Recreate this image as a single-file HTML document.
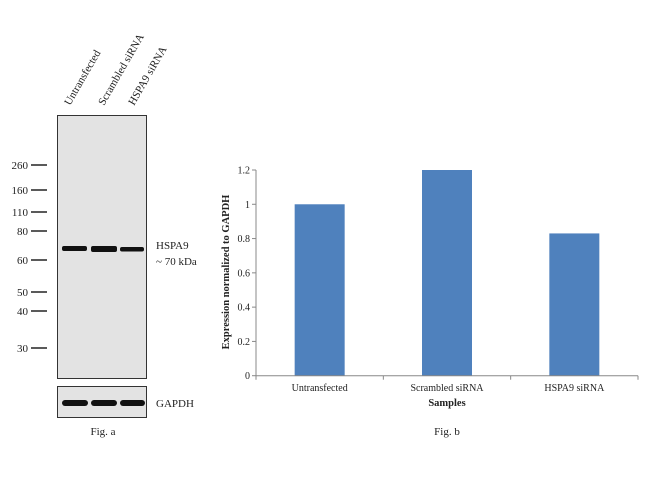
<!DOCTYPE html>
<html><head><meta charset="utf-8"><style>
body{margin:0;background:#fff;width:650px;height:480px;overflow:hidden;font-family:"Liberation Serif",serif;}
svg text{font-family:"Liberation Serif",serif;fill:#222;}
</style></head><body>
<svg width="650" height="480">
<g>
  <text transform="translate(70,106) rotate(-60)" font-size="11">Untransfected</text>
  <text transform="translate(104,106) rotate(-60)" font-size="11">Scrambled siRNA</text>
  <text transform="translate(134,106) rotate(-60)" font-size="11">HSPA9 siRNA</text>
  <rect x="57.5" y="115.5" width="89" height="263" fill="#e3e3e3" stroke="#333" stroke-width="1"/>
  <rect x="57.5" y="386.5" width="89" height="31" fill="#e3e3e3" stroke="#333" stroke-width="1"/>
  <g id="markers"></g>
  <rect x="62" y="246" width="25" height="5" rx="2" fill="#111"/>
  <rect x="91" y="246" width="26" height="6" rx="2" fill="#111"/>
  <rect x="120" y="247" width="24" height="4.5" rx="2" fill="#111"/>
  <rect x="62" y="400" width="26" height="6" rx="3" fill="#111"/>
  <rect x="91" y="400" width="26" height="6" rx="3" fill="#111"/>
  <rect x="120" y="400" width="25" height="6" rx="3" fill="#111"/>
  <text x="156" y="249" font-size="11">HSPA9</text>
  <text x="156" y="265" font-size="11">~ 70 kDa</text>
  <text x="156" y="407" font-size="11">GAPDH</text>
  <text x="103" y="435" font-size="11" text-anchor="middle">Fig. a</text>
</g>
<g id="chart"></g>
</svg>
<script>
const markerLabels=["260","160","110","80","60","50","40","30"];
const markerY=[165,190,212,231,260,292,311,348];
const categories=["Untransfected","Scrambled siRNA","HSPA9 siRNA"];
const values=[1.0,1.2,0.83];
const yTicks=[0,0.2,0.4,0.6,0.8,1,1.2];
const yTickLabels=["0","0.2","0.4","0.6","0.8","1","1.2"];
const NS="http://www.w3.org/2000/svg";
function mk(p,t,a){const e=document.createElementNS(NS,t);for(const k in a)e.setAttribute(k,a[k]);p.appendChild(e);return e;}
const mg=document.getElementById('markers');
markerLabels.forEach((l,i)=>{
  const t=mk(mg,'text',{x:28,y:markerY[i]+4,'font-size':11,'text-anchor':'end'});t.textContent=l;
  
  
  const ln=mk(mg,'line',{x1:31,x2:47,y1:markerY[i],y2:markerY[i],stroke:'#222','stroke-width':1.5});
  
  
});
const g=document.getElementById('chart');
const x0=256,x1=638,y0=375.7,yTop=170,vmax=1.2;
const ys=v=>y0-(v/vmax)*(y0-yTop);
const band=(x1-x0)/categories.length;
const xs=i=>x0+band*(i+0.5);
const bw=50;
yTicks.forEach((v,i)=>{
  const tk=mk(g,'line',{x1:x0-4,x2:x0,y1:ys(v),y2:ys(v),stroke:'#888'});
  
  
  const t=mk(g,'text',{x:x0-6,y:ys(v)+3.5,'font-size':10,'text-anchor':'end'});t.textContent=yTickLabels[i];
  
  
});
categories.forEach((c,i)=>{
  const r=mk(g,'rect',{x:xs(i)-bw/2,y:ys(values[i]),width:bw,height:y0-ys(values[i]),fill:'#4f81bd'});
  
  
  const t=mk(g,'text',{x:xs(i),y:391,'font-size':10,'text-anchor':'middle'});t.textContent=c;
  
  
});
for(let i=0;i<=categories.length;i++){
  const tk=mk(g,'line',{x1:x0+band*i,x2:x0+band*i,y1:y0,y2:y0+4,stroke:'#888'});
  
  
}
const ya=mk(g,'line',{x1:x0,x2:x0,y1:yTop,y2:y0,stroke:'#888'});


const xa=mk(g,'line',{x1:x0,x2:x1,y1:y0,y2:y0,stroke:'#888'});


const xt=mk(g,'text',{x:447,y:406,'font-size':10.5,'font-weight':'bold','text-anchor':'middle'});xt.textContent='Samples';


const yt=mk(g,'text',{transform:'translate(229,272) rotate(-90)','font-size':10.5,'font-weight':'bold','text-anchor':'middle'});yt.textContent='Expression normalized to GAPDH';


const fb=mk(g,'text',{x:447,y:435,'font-size':11,'text-anchor':'middle'});fb.textContent='Fig. b';


</script>
</body></html>
